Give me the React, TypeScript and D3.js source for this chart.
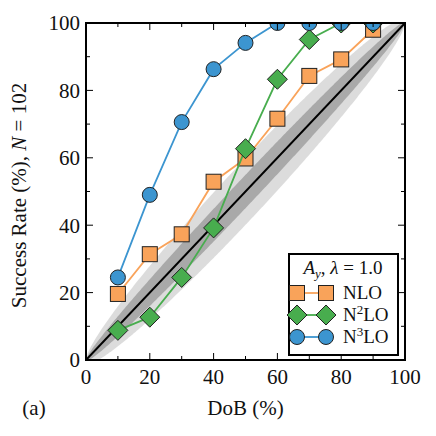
import React from "react";
import * as d3 from "d3";

const dob = [10, 20, 30, 40, 50, 60, 70, 80, 90];
const nlo = [19.6, 31.4, 37.3, 52.9, 59.8, 71.6, 84.3, 89.2, 98.0];
const n2lo = [8.8, 12.7, 24.5, 39.2, 62.7, 83.3, 95.1, 100, 100];
const n3lo = [24.5, 49.0, 70.6, 86.3, 94.1, 100, 100, 100, 100];
const majorTicks = [0, 20, 40, 60, 80, 100];
const minorTicks = [10, 30, 50, 70, 90];
const N = 102;

const W = 436, H = 436;
const left = 86, right = 405, top = 23, bottom = 360;
const FONT = "Liberation Serif";

export default function App() {
  const x = d3.scaleLinear().domain([0, 100]).range([left, right]);
  const y = d3.scaleLinear().domain([0, 100]).range([bottom, top]);

  const ps = d3.range(0, 1.0001, 0.005);
  const band = (k: number) => {
    const lo = ps.map((p) => Math.max(0, p - k * Math.sqrt((p * (1 - p)) / N)) * 100);
    const hi = ps.map((p) => Math.min(1, p + k * Math.sqrt((p * (1 - p)) / N)) * 100);
    const a = d3
      .area<number>()
      .x((_, i) => x(ps[i] * 100))
      .y0((_, i) => y(lo[i]))
      .y1((_, i) => y(hi[i]));
    return a(ps) || "";
  };

  const line = d3
    .line<number>()
    .x((_, i) => x(dob[i]))
    .y((v) => y(v));

  const orange = "#f9a35a";
  const green = "#48ad4e";
  const blue = "#3c95d0";

  const square = (cx: number, cy: number, key: string) => (
    <rect key={key} x={cx - 7.5} y={cy - 7.5} width={15} height={15} fill={orange} stroke="#222" strokeWidth={1} />
  );
  const diamond = (cx: number, cy: number, key: string) => (
    <path key={key} d={`M${cx},${cy - 10}L${cx + 10},${cy}L${cx},${cy + 10}L${cx - 10},${cy}Z`} fill={green} stroke="#222" strokeWidth={1} />
  );
  const circle = (cx: number, cy: number, key: string) => (
    <circle key={key} cx={cx} cy={cy} r={7.5} fill={blue} stroke="#222" strokeWidth={1} />
  );

  const tickLen = 7, minorLen = 4;
  const ts = { fontFamily: FONT };

  return (
    <div style={{ position: "fixed", left: 0, top: 0 }}>
      <svg width={W} height={H} style={{ display: "block", background: "#fff" }}>
        <defs>
          <clipPath id="plotclip">
            <rect x={left} y={top} width={right - left} height={bottom - top} />
          </clipPath>
        </defs>
        <g clipPath="url(#plotclip)">
          <path d={band(2)} fill="#dcdcdc" />
          <path d={band(1)} fill="#a9a9a9" />
          <line x1={x(0)} y1={y(0)} x2={x(100)} y2={y(100)} stroke="#000" strokeWidth={2} />
          <path d={line(nlo) || ""} fill="none" stroke={orange} strokeWidth={1.8} />
          {nlo.map((v, i) => square(x(dob[i]), y(v), "s" + i))}
          <path d={line(n2lo) || ""} fill="none" stroke={green} strokeWidth={1.8} />
          {n2lo.map((v, i) => diamond(x(dob[i]), y(v), "d" + i))}
          <path d={line(n3lo) || ""} fill="none" stroke={blue} strokeWidth={1.8} />
          {n3lo.map((v, i) => circle(x(dob[i]), y(v), "c" + i))}
        </g>
        {majorTicks.map((t) => (
          <g key={"mt" + t} stroke="#000" strokeWidth={1}>
            <line x1={x(t)} x2={x(t)} y1={bottom} y2={bottom - tickLen} />
            <line x1={x(t)} x2={x(t)} y1={top} y2={top + tickLen} />
            <line x1={left} x2={left + tickLen} y1={y(t)} y2={y(t)} />
            <line x1={right} x2={right - tickLen} y1={y(t)} y2={y(t)} />
          </g>
        ))}
        {minorTicks.map((t) => (
          <g key={"mn" + t} stroke="#000" strokeWidth={1}>
            <line x1={x(t)} x2={x(t)} y1={bottom} y2={bottom - minorLen} />
            <line x1={x(t)} x2={x(t)} y1={top} y2={top + minorLen} />
            <line x1={left} x2={left + minorLen} y1={y(t)} y2={y(t)} />
            <line x1={right} x2={right - minorLen} y1={y(t)} y2={y(t)} />
          </g>
        ))}
        <rect x={left} y={top} width={right - left} height={bottom - top} fill="none" stroke="#000" strokeWidth={2} />
        {majorTicks.map((t) => (
          <text key={"xl" + t} x={x(t)} y={bottom + 24} textAnchor="middle" style={ts} fontSize={21} fill="#111">
            {t}
          </text>
        ))}
        {majorTicks.map((t) => (
          <text key={"yl" + t} x={left - 6} y={y(t)} dy="0.35em" textAnchor="end" style={ts} fontSize={21} fill="#111">
            {t}
          </text>
        ))}
        <text x={(left + right) / 2} y={415} textAnchor="middle" style={ts} fontSize={21} fill="#111">
          DoB (%)
        </text>
        <text x={34} y={415} textAnchor="middle" style={ts} fontSize={21} fill="#111">
          (a)
        </text>
        <text
          transform={`translate(26, ${(top + bottom) / 2 + 4}) rotate(-90)`}
          textAnchor="middle"
          style={ts}
          fontSize={21}
          fill="#111"
        >
          Success Rate (%), <tspan fontStyle="italic">N</tspan> = 102
        </text>
        <g>
          <rect x={289} y={254} width={109} height={101} fill="#fff" stroke="#000" strokeWidth={2} />
          <text x={343} y={274} textAnchor="middle" style={ts} fontSize={19} fill="#111">
            <tspan fontStyle="italic">A</tspan>
            <tspan fontStyle="italic" fontSize={13} dy={4}>y</tspan>
            <tspan dy={-4}>, </tspan>
            <tspan fontStyle="italic">λ</tspan>
            <tspan> = 1.0</tspan>
          </text>
          <line x1={297} x2={326} y1={293} y2={293} stroke={orange} strokeWidth={1.8} />
          {square(297, 293, "ls1")}
          {square(326, 293, "ls2")}
          <text x={343} y={299} style={ts} fontSize={19} fill="#111">NLO</text>
          <line x1={297} x2={326} y1={315} y2={315} stroke={green} strokeWidth={1.8} />
          {diamond(297, 315, "ld1")}
          {diamond(326, 315, "ld2")}
          <text x={343} y={321} style={ts} fontSize={19} fill="#111">
            N<tspan fontSize={13} dy={-7}>2</tspan>
            <tspan dy={7}>LO</tspan>
          </text>
          <line x1={297} x2={326} y1={337} y2={337} stroke={blue} strokeWidth={1.8} />
          {circle(297, 337, "lc1")}
          {circle(326, 337, "lc2")}
          <text x={343} y={343} style={ts} fontSize={19} fill="#111">
            N<tspan fontSize={13} dy={-7}>3</tspan>
            <tspan dy={7}>LO</tspan>
          </text>
        </g>
      </svg>
    </div>
  );
}
